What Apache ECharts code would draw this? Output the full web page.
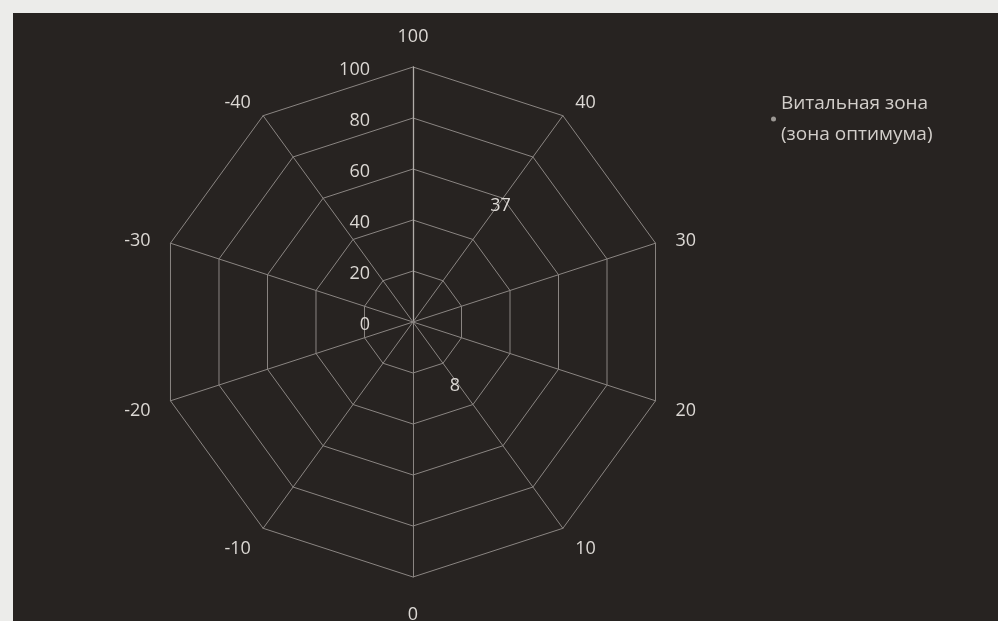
<!DOCTYPE html>
<html>
<head>
<meta charset="utf-8">
<script src="https://cdn.jsdelivr.net/npm/echarts@6/dist/echarts.min.js"></script>
<style>
  html, body { margin: 0; padding: 0; background: #ececea; width: 998px; height: 621px; overflow: hidden; }
  #chart { position: absolute; left: 13px; top: 13px; width: 985px; height: 608px; }
</style>
</head>
<body>
<div id="chart"></div>
<script>
// Axis categories, clockwise from top as they appear on the picture
const categories = ['100', '40', '30', '20', '10', '0', '-10', '-20', '-30', '-40'];
const radialMax = 100;
const radialSplit = 5;
const seriesName = 'Витальная зона (зона оптимума)';
// Labelled values
const valueAt40 = 37;   // on axis "40"
const valueAt10 = 8;    // on axis "10"

// ECharts places indicators counter-clockwise; reorder so the picture reads clockwise
const ccwOrder = [categories[0]].concat(categories.slice(1).reverse());

function seriesValues(cat, v) {
  return ccwOrder.map(c => (c === cat ? v : 0));
}

const textColor = '#dcd8d4';
const gridColor = '#8a8582';
const font = 'Open Sans';
const fs = 18;

const indicators = ccwOrder.map((name, i) => {
  const ind = { name: name, max: radialMax, min: 0 };
  if (i === 0) {
    ind.axisLabel = {
      show: true, margin: 43,
      formatter: v => '{s|}\n{a|' + v + '}',
      rich: {
        s: { height: 6, lineHeight: 6, fontSize: 1 },
        a: { color: textColor, fontSize: fs, fontFamily: font }
      }
    };
    ind.axisLine = { lineStyle: { color: '#b0aca8', width: 1.3 } };
  }
  return ind;
});

const labelBase = { show: true, color: textColor, fontSize: fs, fontFamily: font,
                    formatter: p => (p.value ? String(p.value) : '') };

const chart = echarts.init(document.getElementById('chart'));
chart.setOption({
  backgroundColor: '#272321',
  animation: false,
  legend: {
    left: 753, top: 70,
    orient: 'vertical',
    data: [seriesName],
    icon: 'circle',
    itemWidth: 5, itemHeight: 5, itemGap: 4,
    formatter: n => n.replace(' (', '\n('),
    textStyle: { color: '#d2ceca', fontSize: 19, fontFamily: font, lineHeight: 31 }
  },
  radar: {
    center: [400, 309],
    radius: 255,
    startAngle: 90,
    splitNumber: radialSplit,
    shape: 'polygon',
    indicator: indicators,
    axisName: {
      formatter: n => '{s|}\n{a|' + n + '}',
      rich: {
        s: { height: 8, lineHeight: 8, fontSize: 1 },
        a: { color: textColor, fontSize: fs, fontFamily: font }
      }
    },
    nameGap: 21,
    splitLine: { lineStyle: { color: gridColor, width: 1 } },
    splitArea: { show: false },
    axisLine: { lineStyle: { color: gridColor, width: 1 } }
  },
  series: [{
    type: 'radar',
    name: seriesName,
    symbol: 'circle',
    symbolSize: 0.01,
    color: '#9c9894',
    lineStyle: { opacity: 0 },
    data: [
      {
        name: seriesName,
        value: seriesValues('40', valueAt40),
        label: Object.assign({ offset: [32, -26] }, labelBase)
      },
      {
        name: seriesName,
        value: seriesValues('10', valueAt10),
        label: Object.assign({ offset: [30, 61] }, labelBase)
      }
    ]
  }]
});
</script>
</body>
</html>
